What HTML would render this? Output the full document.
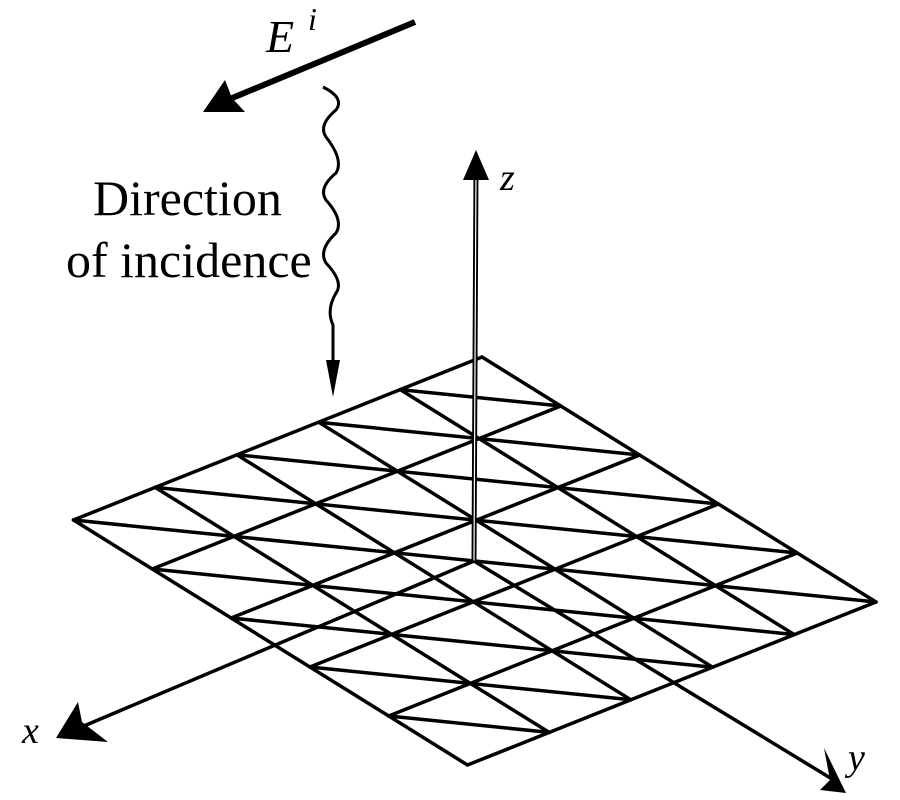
<!DOCTYPE html>
<html><head><meta charset="utf-8"><style>
html,body{margin:0;padding:0;background:#fff;}
svg{display:block;}
text{font-family:"Liberation Serif",serif;fill:#000;}
</style></head><body>
<svg id="s" width="900" height="800" viewBox="0 0 900 800" xmlns="http://www.w3.org/2000/svg">
<g id="grid" stroke="#000" stroke-width="3.5" fill="none" stroke-linecap="round"></g>
<!-- axes -->
<g stroke="#000" fill="none">
<line x1="474" y1="561" x2="476" y2="170" stroke-width="5"/>
<line x1="474" y1="561" x2="476" y2="170" stroke="#fff" stroke-width="1.2"/>
<line x1="474" y1="561" x2="72" y2="731" stroke-width="3.5"/>
<line x1="474" y1="561" x2="832" y2="779" stroke-width="3.5"/>
<line x1="415" y1="22" x2="225" y2="101" stroke-width="6"/>
<path d="M323,87 Q345,98 336,110 Q318,125 326,137 Q344,160 336,173 Q318,188 326,200 Q344,220 336,233 Q318,250 326,263 Q344,282 336,293 Q326,310 333,325 L333,365" stroke-width="3"/>
</g>
<g fill="#000">
<polygon points="476,150 463,180 489,180"/>
<polygon points="56,738 78,702 82,722 108,742"/>
<polygon points="846,793 820,790 830,780 824,748"/>
<polygon points="203,112 225,80 232,98 245,112"/>
<polygon points="333,397 326,360 340,360"/>
</g>
<text x="266" y="52" font-size="46" font-style="italic">E</text>
<text x="308" y="30" font-size="32" font-style="italic">i</text>
<text x="93" y="215" font-size="50">Direction</text>
<text x="66" y="277" font-size="50">of incidence</text>
<text x="500" y="190" font-size="38" font-style="italic">z</text>
<text x="22" y="743" font-size="38" font-style="italic">x</text>
<text x="848" y="770" font-size="38" font-style="italic">y</text>
</svg>
<script>
var T=[482,357],L=[73.5,520],R=[876,602];
var u=[(L[0]-T[0])/5,(L[1]-T[1])/5],v=[(R[0]-T[0])/5,(R[1]-T[1])/5];
function n(i,j){return [T[0]+i*u[0]+j*v[0],T[1]+i*u[1]+j*v[1]];}
var g=document.getElementById('grid'),h='';
function ln(a,b){h+='<line x1="'+a[0]+'" y1="'+a[1]+'" x2="'+b[0]+'" y2="'+b[1]+'"/>';}
for(var k=0;k<=5;k++){ln(n(k,0),n(k,5));ln(n(0,k),n(5,k));}
for(var s=1;s<=9;s++){var i1=Math.min(s,5),i2=Math.max(0,s-5);ln(n(i1,s-i1),n(i2,s-i2));}
g.innerHTML=h;
</script>
</body></html>
